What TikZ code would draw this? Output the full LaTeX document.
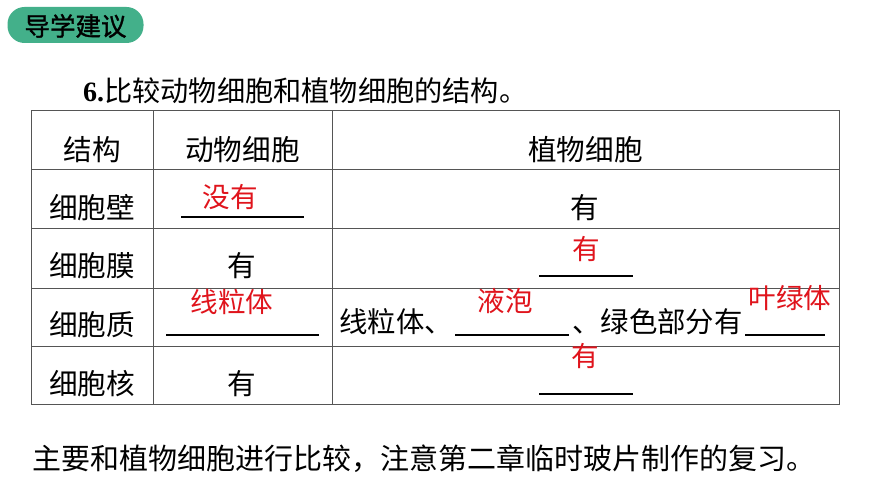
\documentclass[tikz,border=0pt]{standalone}
\usepackage{fontspec}
\setmainfont{Liberation Serif}
\newfontfamily\cjk{Noto Sans CJK SC}
\newfontfamily\cjkb{Noto Sans CJK SC}[FakeBold=1.2]
\newcommand{\fs}[1]{\fontsize{#1}{#1}\selectfont}
\definecolor{ansred}{HTML}{E0141C}
\definecolor{gridgray}{HTML}{555555}
\definecolor{badge}{HTML}{43B08A}
\tikzset{
 cell/.style={inner sep=0pt,anchor=center,text=black,font=\cjk\fs{28.6}},
 rowtext/.style={inner sep=0pt,anchor=west,text=black,font=\cjk\fs{28.4}},
 ans/.style={inner sep=0pt,anchor=center,text=ansred,font=\cjk\fs{27.6}},
 rule/.style={draw=black,line width=1.5pt},
 grid/.style={draw=gridgray,line width=1pt},
}
\begin{document}
\begin{tikzpicture}[x=1pt,y=-1pt]
\useasboundingbox (0,0) rectangle (870,489);
\fill[white] (0,0) rectangle (870,489);
\node[fill=badge,rounded corners=17pt,minimum width=136pt,minimum height=36pt,inner sep=0pt] (badgebox) at (75.5,25) {};
\node[inner sep=0pt,font=\cjkb\fs{25.5}] (badgetext) at (75.5,26) {导学建议};
\node[inner sep=0pt,anchor=west,font=\fs{28}] (title) at (83,90.5) {\textbf{6.}{\cjk\fs{28.2}比较动物细胞和植物细胞的结构。}};
\draw[grid] (31,111) rectangle (839,404);
\draw[grid] (153,111) -- (153,404);
\draw[grid] (332,111) -- (332,404);
\foreach \yy in {170,229,288,346} \draw[grid] (31,\yy) -- (839,\yy);
\node[cell] (h1) at (92,149.5) {结构};
\node[cell] (h2) at (242.5,149.5) {动物细胞};
\node[cell] (h3) at (585.5,149.5) {植物细胞};
\node[cell] (r1) at (92,208) {细胞壁};
\node[cell] (r2) at (92,266) {细胞膜};
\node[cell] (r3) at (92,325) {细胞质};
\node[cell] (r4) at (92,384) {细胞核};
\node[cell] (a2) at (242,266) {有};
\node[cell] (a4) at (242,384) {有};
\node[cell] (p1) at (585,208) {有};
\node[rowtext] (p3a) at (339,322) {线粒体、};
\node[rowtext] (p3b) at (572,322) {、绿色部分有};
\draw[rule] (181,217) -- (304,217);
\draw[rule] (539,276) -- (633,276);
\draw[rule] (166,335) -- (319,335);
\draw[rule] (455,335) -- (569,335);
\draw[rule] (745,335) -- (825,335);
\draw[rule] (539,394) -- (633,394);
\node[ans] (x1) at (230,197) {没有};
\node[ans] (x2) at (586,249) {有};
\node[ans] (x3) at (232,302) {线粒体};
\node[ans] (x4) at (505,301) {液泡};
\node[ans] (x5) at (790,298) {叶绿体};
\node[ans] (x6) at (585,356) {有};
\node[inner sep=0pt,anchor=west,font=\cjk\fs{29}] (foot) at (32,458.5) {主要和植物细胞进行比较，注意第二章临时玻片制作的复习。};
\end{tikzpicture}
\end{document}
